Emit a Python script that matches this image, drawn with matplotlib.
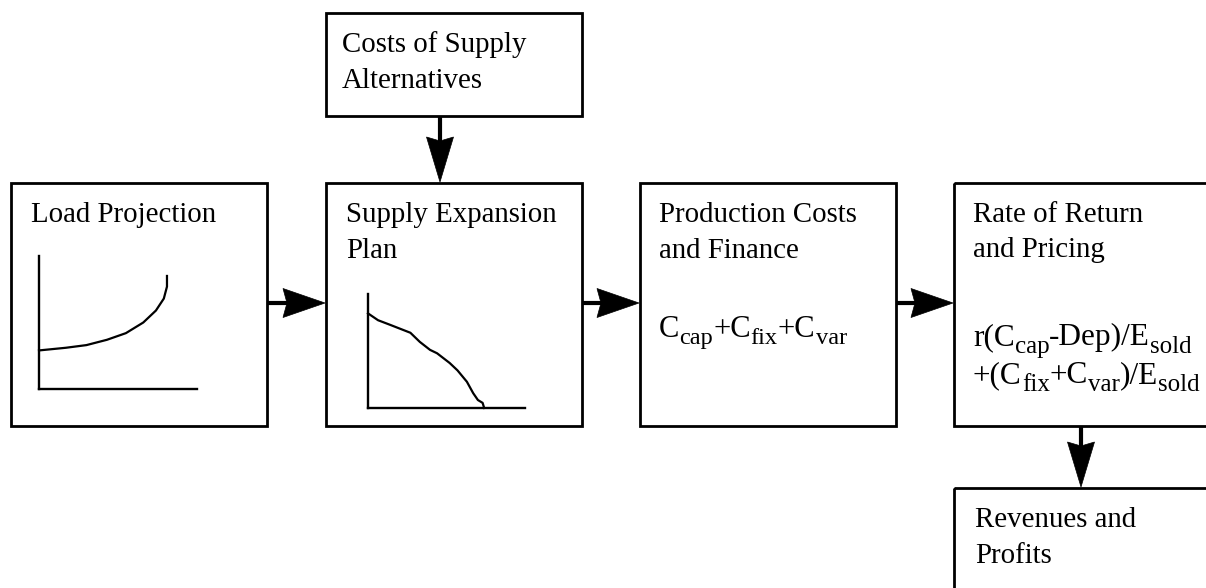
import matplotlib
matplotlib.use("Agg")
import matplotlib.pyplot as plt
from matplotlib.patches import Rectangle, Polygon

plt.rcParams['font.family'] = ['Liberation Serif', 'DejaVu Serif']

# box captions, one entry per line
costs_text = ["Costs of Supply", "Alternatives"]
load_text = ["Load Projection"]
supply_text = ["Supply Expansion", "Plan"]
prod_text = ["Production Costs", "and Finance"]
rate_text = ["Rate of Return", "and Pricing"]
rev_text = ["Revenues and", "Profits"]

# formulas as (text, is_subscript) pieces
prod_formula = [("C", 0), ("cap", 1), ("+C", 0), ("fix", 1), ("+C", 0), ("var", 1)]
rate_line1 = [("r(C", 0), ("cap", 1), ("-Dep)/E", 0), ("sold", 1)]
rate_line2 = [("+(C", 0), ("fix", 1), ("+C", 0), ("var", 1), (")/E", 0), ("sold", 1)]

# sketch curves (arbitrary 0-10 units)
load_t = [0, 1.7, 3.0, 4.3, 5.5, 6.6, 7.4, 7.9, 8.1, 8.1]
load_mw = [2.9, 3.1, 3.3, 3.7, 4.2, 5.0, 5.9, 6.8, 7.7, 8.5]
supply_x = [0, 0.64, 1.4, 2.7, 3.3, 3.95, 4.4, 5.2, 5.7, 6.3, 6.7, 7.0, 7.3, 7.4]
supply_y = [8.3, 7.7, 7.3, 6.6, 5.8, 5.1, 4.8, 3.95, 3.3, 2.3, 1.3, 0.7, 0.45, 0]

W, H = 1206, 588
fig = plt.figure(figsize=(W / 100, H / 100), dpi=100)
ax = fig.add_axes([0, 0, 1, 1])
ax.set_xlim(0, W)
ax.set_ylim(H, 0)
ax.axis('off')

FS = 20.8


def box(x0, y0, x1, y1):
    ax.add_patch(Rectangle((x0, y0), x1 - x0, y1 - y0, fill=False, ec='black', lw=2))


def lines(x, y, txt, step=36):
    for i, s in enumerate(txt):
        ax.text(x, y + i * step, s, fontsize=FS, va='baseline', ha='left')


def rich(x, y, parts, size=FS):
    r = fig.canvas.get_renderer()
    for s, sub in parts:
        if sub:
            t = ax.text(x, y + 7 * size / FS, s, fontsize=size * 0.8, va='baseline')
        else:
            t = ax.text(x, y, s, fontsize=size, va='baseline')
        x += t.get_window_extent(r).width


def arrow_right(x0, x1, y):
    ax.plot([x0, x1 - 30], [y, y], color='black', lw=3, solid_capstyle='butt')
    ax.add_patch(Polygon([(x1 - 42, y - 14.5), (x1, y), (x1 - 42, y + 14.5), (x1 - 38, y)],
                         closed=True, fc='black', ec='black', lw=0.5))


def arrow_down(x, y0, y1):
    ax.plot([x, x], [y0, y1 - 30], color='black', lw=3, solid_capstyle='butt')
    ax.add_patch(Polygon([(x - 13.5, y1 - 45), (x, y1), (x + 13.5, y1 - 45), (x, y1 - 41)],
                         closed=True, fc='black', ec='black', lw=0.5))


def mini_axes(x0, y0, x1, y1):
    a = fig.add_axes([x0 / W, 1 - y0 / H, (x1 - x0) / W, (y0 - y1) / H])
    a.set_xlim(0, 10)
    a.set_ylim(0, 10)
    a.patch.set_alpha(0)
    for sp in ['top', 'right']:
        a.spines[sp].set_visible(False)
    for sp in ['left', 'bottom']:
        a.spines[sp].set_linewidth(1.7)
    a.set_xticks([])
    a.set_yticks([])
    return a


# boxes
box(326, 13, 582, 116)
box(11, 183, 267, 426)
box(326, 183, 582, 426)
box(640, 183, 896, 426)
box(954, 183, 1230, 426)
box(954, 488, 1230, 620)

# arrows
arrow_down(440, 116, 182)
arrow_right(267, 325, 303)
arrow_right(582, 639, 303)
arrow_right(896, 953, 303)
arrow_down(1081, 426, 487)

# captions
lines(342, 52, costs_text)
lines(31, 222, load_text)
lines(346, 222, supply_text)
lines(659, 222, prod_text)
lines(973, 222, rate_text, step=35)
lines(975, 527, rev_text)

rich(659, 337, prod_formula, size=22)
rich(973, 345, rate_line1, size=22.5)
rich(973, 383, rate_line2, size=22.5)

# little sketch plots
la = mini_axes(39, 389, 197, 256)
la.plot(load_t, load_mw, color='black', lw=1.6, clip_on=False)
sa = mini_axes(368, 408, 525, 294)
sa.plot(supply_x, supply_y, color='black', lw=1.6, clip_on=False)

fig.savefig("out.png", dpi=100)
